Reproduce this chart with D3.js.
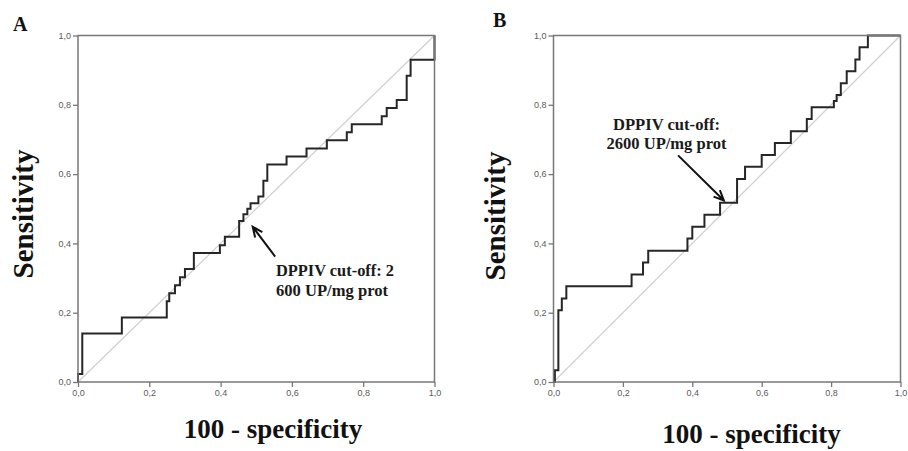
<!DOCTYPE html>
<html>
<head>
<meta charset="utf-8">
<script src="https://cdn.jsdelivr.net/npm/d3@7"></script>
<style>
  body { margin: 0; background: #fff; }
</style>
</head>
<body>
<div id="rocChart"></div>
<script>
// ROC points (1 - specificity, sensitivity)
let fprA = [0, 0, 0.012, 0.123, 0.249, 0.256, 0.272, 0.286, 0.300, 0.325, 0.398, 0.412, 0.452, 0.464, 0.475, 0.484, 0.506, 0.520, 0.531, 0.585, 0.641, 0.698, 0.754, 0.768, 0.852, 0.866, 0.894, 0.922, 0.933, 1.0];
let tprA = [0, 0.023, 0.140, 0.186, 0.233, 0.256, 0.279, 0.302, 0.326, 0.372, 0.395, 0.419, 0.465, 0.484, 0.500, 0.516, 0.535, 0.581, 0.628, 0.651, 0.674, 0.698, 0.721, 0.744, 0.767, 0.791, 0.814, 0.884, 0.930, 1.0];

let fprB = [0, 0.004, 0.014, 0.024, 0.037, 0.225, 0.258, 0.273, 0.386, 0.400, 0.435, 0.480, 0.529, 0.552, 0.600, 0.638, 0.684, 0.730, 0.744, 0.808, 0.816, 0.828, 0.845, 0.870, 0.882, 0.906, 1.0];
let tprB = [0, 0.034, 0.207, 0.241, 0.276, 0.310, 0.345, 0.379, 0.414, 0.448, 0.483, 0.517, 0.586, 0.621, 0.655, 0.690, 0.724, 0.759, 0.793, 0.811, 0.828, 0.862, 0.897, 0.931, 0.966, 1.0, 1.0];

let tickVals = [0, 0.2, 0.4, 0.6, 0.8, 1.0];
let tickLabels = ["0,0", "0,2", "0,4", "0,6", "0,8", "1,0"];

let width = 908, height = 451;

let svg = d3.select("#rocChart")
  .append("svg")
  .attr("width", width)
  .attr("height", height)
  .style("background", "#fff");

function drawPanel(opt) {
  let x = d3.scaleLinear().domain([0, 1]).range([opt.left, opt.right]);
  let y = d3.scaleLinear().domain([0, 1]).range([opt.bottom, opt.top]);
  let g = svg.append("g");

  // axes (ticks outside, frame drawn separately)
  let fmt = d => tickLabels[tickVals.indexOf(d)];
  let xAx = g.append("g")
    .attr("transform", "translate(0," + opt.bottom + ")")
    .call(d3.axisBottom(x).tickValues(tickVals).tickFormat(fmt).tickSize(5).tickSizeOuter(0).tickPadding(3));
  let yAx = g.append("g")
    .attr("transform", "translate(" + opt.left + ",0)")
    .call(d3.axisLeft(y).tickValues(tickVals).tickFormat(fmt).tickSize(5).tickSizeOuter(0).tickPadding(2));
  [xAx, yAx].forEach(a => {
    a.select(".domain").remove();
    a.selectAll("line").attr("stroke", "#777").attr("stroke-width", 1.3);
    a.selectAll("text").attr("fill", "#5a5a5a").style("font", "9px 'Liberation Sans', Arial, sans-serif");
  });

  // reference diagonal
  g.append("line")
    .attr("x1", x(0)).attr("y1", y(0))
    .attr("x2", x(1)).attr("y2", y(1))
    .attr("stroke", "#cfcfcf").attr("stroke-width", 1.2);

  // ROC step curve
  let pts = opt.fpr.map((v, i) => [v, opt.tpr[i]]);
  let line = d3.line()
    .x(d => x(d[0]))
    .y(d => y(d[1]))
    .curve(d3.curveStepAfter);
  g.append("path")
    .datum(pts)
    .attr("d", line)
    .attr("fill", "none")
    .attr("stroke", "#262626")
    .attr("stroke-width", 2)
    .attr("stroke-linejoin", "miter");

  // frame
  g.append("rect")
    .attr("x", x(0)).attr("y", y(1))
    .attr("width", x(1) - x(0)).attr("height", y(0) - y(1))
    .attr("fill", "none")
    .attr("stroke", "#777")
    .attr("stroke-width", 1.5);

  // axis titles
  let serif = "'Liberation Serif', 'Times New Roman', serif";
  g.append("text")
    .attr("transform", "translate(" + opt.ylabX + "," + opt.ylabY + ") rotate(-90)")
    .attr("text-anchor", "middle")
    .style("font", "bold 29px " + serif)
    .attr("fill", "#111")
    .text("Sensitivity");
  g.append("text")
    .attr("x", opt.xlabX).attr("y", opt.xlabY)
    .attr("text-anchor", "middle")
    .style("font", "bold 27px " + serif)
    .attr("fill", "#111")
    .text("100 - specificity");

  // panel letter
  g.append("text")
    .attr("x", opt.letterX).attr("y", opt.letterY)
    .style("font", "bold 20px " + serif)
    .attr("fill", "#111")
    .text(opt.letter);

  // cut-off annotation, one text per line (squeezed to the original widths)
  opt.annLines.forEach((t, i) => {
    g.append("text")
      .attr("x", opt.annX[i]).attr("y", opt.annY[i])
      .attr("textLength", opt.annW[i])
      .attr("lengthAdjust", "spacingAndGlyphs")
      .style("font", "bold 16.5px " + serif)
      .attr("fill", "#1a1a1a")
      .text(t);
  });

  // arrow, tail -> tip (data coords)
  let tx = x(opt.tip[0]), ty = y(opt.tip[1]);
  let sx = x(opt.tail[0]), sy = y(opt.tail[1]);
  let ang = Math.atan2(ty - sy, tx - sx);
  let hl = 11, ha = 0.42;
  g.append("path")
    .attr("d", "M" + sx + "," + sy + "L" + tx + "," + ty +
      "M" + (tx - hl * Math.cos(ang - ha)) + "," + (ty - hl * Math.sin(ang - ha)) +
      "L" + tx + "," + ty +
      "L" + (tx - hl * Math.cos(ang + ha)) + "," + (ty - hl * Math.sin(ang + ha)))
    .attr("fill", "none")
    .attr("stroke", "#111")
    .attr("stroke-width", 2);
}

drawPanel({
  left: 78, right: 434.5, top: 35.5, bottom: 382,
  fpr: fprA, tpr: tprA,
  ylabX: 33, ylabY: 214, xlabX: 273, xlabY: 438,
  letter: "A", letterX: 13, letterY: 31,
  annLines: ["DPPIV cut-off: 2", "600 UP/mg prot"], annX: [276, 276], annY: [276, 296], annW: [118, 112],
  tip: [0.49, 0.448], tail: [0.553, 0.362]
});

drawPanel({
  left: 553.5, right: 900.5, top: 35.5, bottom: 382,
  fpr: fprB, tpr: tprB,
  ylabX: 505, ylabY: 216, xlabX: 751.5, xlabY: 443,
  letter: "B", letterX: 493, letterY: 27,
  annLines: ["DPPIV cut-off:", "2600 UP/mg prot"], annX: [613, 606.5], annY: [130, 148.5], annW: [107, 120],
  tip: [0.491, 0.524], tail: [0.359, 0.654]
});
</script>
</body>
</html>
